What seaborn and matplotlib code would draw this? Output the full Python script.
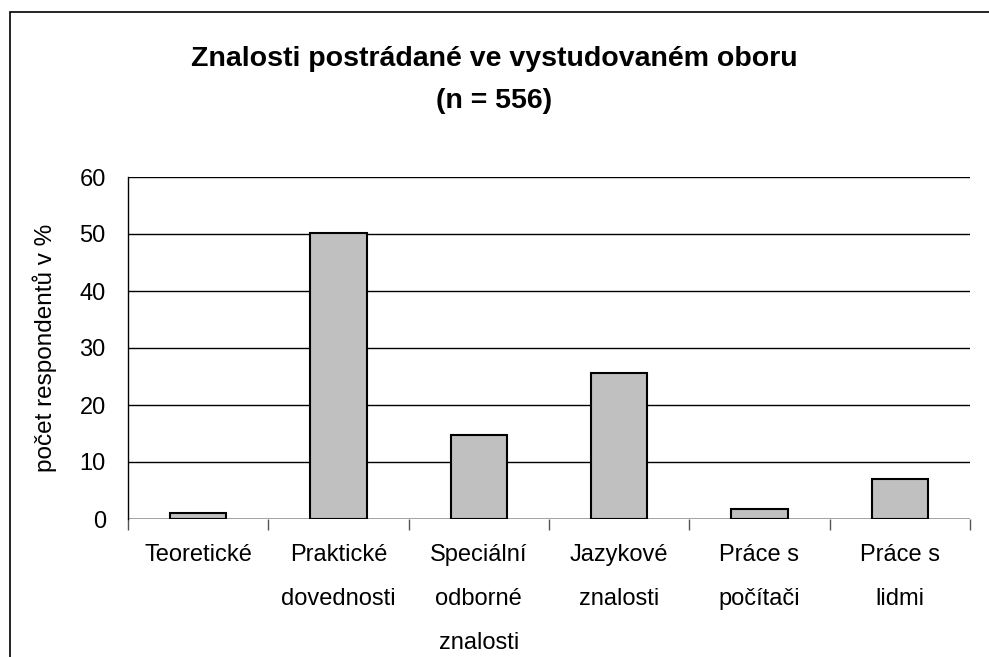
import matplotlib
matplotlib.use("Agg")
import matplotlib.pyplot as plt
import seaborn as sns
import pandas as pd
from matplotlib.patches import Rectangle

# data
categories = ["Teoretické", "Praktické\ndovednosti", "Speciální\nodborné\nznalosti",
              "Jazykové\nznalosti", "Práce s\npočítači", "Práce s\nlidmi"]
values = [1.1, 50.2, 14.7, 25.6, 1.8, 7.0]
y_ticks = [0, 10, 20, 30, 40, 50, 60]

sns.set_style("white")
plt.rcParams['font.family'] = ['Liberation Sans', 'DejaVu Sans']
plt.rcParams['text.color'] = 'black'
plt.rcParams['axes.labelcolor'] = 'black'
plt.rcParams['xtick.color'] = 'black'
plt.rcParams['ytick.color'] = 'black'

df = pd.DataFrame({"kategorie": categories, "hodnota": values})

fig = plt.figure(figsize=(9.89, 6.57), dpi=100)
ax = fig.add_axes([128 / 989, 1 - 519 / 657, (970 - 128) / 989, (519 - 177) / 657])

sns.barplot(data=df, x="kategorie", y="hodnota", color="#c0c0c0", width=0.4,
            edgecolor="black", linewidth=1.5, saturation=1, ax=ax, zorder=3)

ax.set_ylim(0, 60)
ax.set_xlim(-0.5, 5.5)
ax.set_yticks(y_ticks)
ax.yaxis.grid(True, color="black", linewidth=1)
ax.set_axisbelow(True)
for s in ["top", "right", "bottom"]:
    ax.spines[s].set_visible(False)
ax.spines["left"].set_color("black")
ax.spines["left"].set_linewidth(1)
ax.axhline(0, color="black", linewidth=1, zorder=4)

# x ticks between categories
ax.set_xticks([x + 0.5 for x in range(-1, 6)], minor=True)
ax.tick_params(axis="x", which="minor", length=8, direction="out", color="#555555", width=1)
ax.tick_params(axis="x", which="major", length=0, labelsize=17, pad=18)
ax.tick_params(axis="y", length=7, direction="out", color="black", width=1, labelsize=17, pad=9)
ax.set_xticks(range(6))
ax.set_xticklabels(categories, linespacing=2.3)
ax.tick_params(axis="x", which="minor", bottom=True)
ax.set_xlabel("")
ax.set_ylabel("počet respondentů v %", fontsize=17.5, labelpad=16)

fig.text(0.5, 1 - 80 / 657, "Znalosti postrádané ve vystudovaném oboru\n(n = 556)",
         ha="center", va="center", fontsize=20.5, fontweight="bold", linespacing=1.76)

# outer chart frame
fig.patches.append(Rectangle((10 / 989, -0.1), 1.1, 1 - 12 / 657 + 0.1,
                             transform=fig.transFigure, fill=False,
                             edgecolor="black", linewidth=1.2))

fig.savefig("out.png", dpi=100)
